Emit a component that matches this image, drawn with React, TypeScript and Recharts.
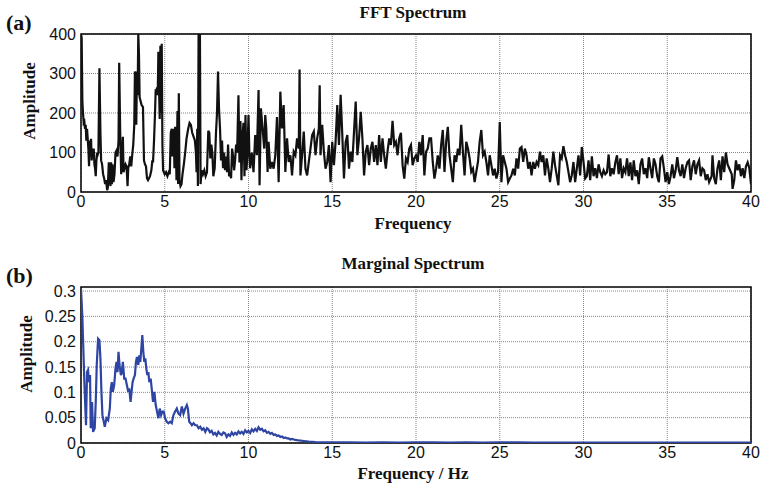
import React from 'react';
import { LineChart, Line, XAxis, YAxis, CartesianGrid, ReferenceArea } from 'recharts';

// (a) FFT spectrum
const fftFreq = [
  0, 0.04, 0.08, 0.12, 0.16, 0.2, 0.24, 0.28, 0.32, 0.36, 0.4, 0.44, 0.48, 0.52, 0.56, 0.6, 0.64, 0.68, 0.72, 0.76,
  0.8, 0.84, 0.88, 0.92, 0.96, 1.0, 1.04, 1.1, 1.16, 1.2, 1.26, 1.32, 1.38, 1.44, 1.5, 1.56, 1.6, 1.66, 1.7, 1.76,
  1.8, 1.84, 1.88, 1.94, 2.0, 2.06, 2.12, 2.18, 2.24, 2.28, 2.34, 2.4, 2.46, 2.5, 2.54, 2.6, 2.66, 2.72, 2.78, 2.82,
  2.88, 2.94, 3.0, 3.06, 3.12, 3.18, 3.22, 3.26, 3.3, 3.34, 3.38, 3.42, 3.46, 3.5, 3.56, 3.62, 3.7, 3.76, 3.82, 3.88,
  3.94, 4.0, 4.06, 4.12, 4.2, 4.26, 4.3, 4.36, 4.42, 4.46, 4.5, 4.54, 4.58, 4.62, 4.66, 4.7, 4.74, 4.78, 4.82, 4.86,
  4.9, 4.95,
  5.0, 5.08, 5.16, 5.24, 5.3, 5.36, 5.42, 5.46, 5.5, 5.54, 5.58, 5.62, 5.66, 5.7, 5.76, 5.8, 5.84, 5.88, 5.94, 6.0,
  6.06, 6.14, 6.22, 6.3, 6.4, 6.48, 6.56, 6.64, 6.72, 6.8, 6.86, 6.9, 6.94, 6.98, 7.02, 7.06, 7.1, 7.14, 7.2, 7.28,
  7.36, 7.44, 7.52, 7.6, 7.66, 7.72, 7.78, 7.84, 7.9, 7.98, 8.06, 8.12, 8.18, 8.24, 8.3, 8.36, 8.42, 8.48, 8.54, 8.6,
  8.66, 8.72, 8.78, 8.84, 8.9, 8.96, 9.02, 9.08, 9.14, 9.2, 9.26, 9.32, 9.4, 9.46, 9.52, 9.58, 9.64, 9.7, 9.76, 9.82,
  9.88, 9.94, 10.0, 10.05,
  10.1, 10.2, 10.3, 10.4, 10.5, 10.6, 10.66, 10.74, 10.84, 10.94, 11.0, 11.06, 11.14, 11.2, 11.3, 11.4, 11.5, 11.6,
  11.7, 11.8, 11.9, 12.0, 12.1, 12.2, 12.3, 12.4, 12.5, 12.6, 12.7, 12.8, 12.9, 13.0, 13.05, 13.1, 13.2, 13.3, 13.4,
  13.5, 13.6, 13.7, 13.8, 13.9, 14.0, 14.1, 14.2, 14.25, 14.3, 14.4, 14.5, 14.6, 14.7, 14.8, 14.9, 15.0, 15.1, 15.2,
  15.3, 15.4, 15.5, 15.6, 15.7, 15.8, 15.9, 16.0, 16.1, 16.2, 16.3, 16.4, 16.5, 16.6, 16.7, 16.8, 16.9, 17.0, 17.1,
  17.2, 17.3, 17.4, 17.5, 17.6, 17.7, 17.8, 17.9, 18.0, 18.1, 18.2, 18.3, 18.4, 18.5, 18.6, 18.7, 18.8, 18.9, 19.0,
  19.1, 19.2, 19.3, 19.4, 19.5, 19.6, 19.7, 19.8, 19.9,
  20.0, 20.1, 20.2, 20.3, 20.4, 20.5, 20.6, 20.7, 20.8, 20.9, 21.0, 21.1, 21.2, 21.3, 21.4, 21.5, 21.6, 21.7, 21.8,
  21.9, 22.0, 22.1, 22.2, 22.3, 22.4, 22.5, 22.6, 22.7, 22.8, 22.9, 23.0, 23.1, 23.2, 23.3, 23.4, 23.5, 23.6, 23.7,
  23.8, 23.9, 24.0, 24.1, 24.2, 24.3, 24.4, 24.5, 24.6, 24.7, 24.8, 24.9, 25.0, 25.1, 25.2, 25.3, 25.4, 25.5, 25.6,
  25.7, 25.8, 25.9, 26.0, 26.1, 26.2, 26.3, 26.4, 26.5, 26.6, 26.7, 26.8, 26.9, 27.0, 27.1, 27.2, 27.3, 27.4, 27.5,
  27.6, 27.7, 27.8, 27.9, 28.0, 28.1, 28.2, 28.3, 28.4, 28.5, 28.6, 28.7, 28.8, 28.9, 29.0, 29.1, 29.2, 29.3, 29.4,
  29.5, 29.6, 29.7, 29.8, 29.9,
  30.0, 30.1, 30.2, 30.3, 30.4, 30.5, 30.6, 30.7, 30.8, 30.9, 31.0, 31.1, 31.2, 31.3, 31.4, 31.5, 31.6, 31.7, 31.8,
  31.9, 32.0, 32.1, 32.2, 32.3, 32.4, 32.5, 32.6, 32.7, 32.8, 32.9, 33.0, 33.1, 33.2, 33.3, 33.4, 33.5, 33.6, 33.7,
  33.8, 33.9, 34.0, 34.1, 34.2, 34.3, 34.4, 34.5, 34.6, 34.7, 34.8, 34.9, 35.0, 35.1, 35.2, 35.3, 35.4, 35.5, 35.6,
  35.7, 35.8, 35.9, 36.0, 36.1, 36.2, 36.3, 36.4, 36.5, 36.6, 36.7, 36.8, 36.9, 37.0, 37.1, 37.2, 37.3, 37.4, 37.5,
  37.65, 37.7, 37.8, 37.9, 38.0, 38.1, 38.2, 38.3, 38.4, 38.5, 38.6, 38.7, 38.85, 38.9, 39.0, 39.1, 39.2, 39.3, 39.4,
  39.5, 39.6, 39.7, 39.8, 39.9, 40.0,
];
const fftAmp = [
  400, 390, 230, 200, 175, 178, 160, 170, 130, 160, 135, 110, 65, 130, 90, 135, 80, 110, 95, 110,
  70, 60, 40, 80, 100, 95, 100, 313, 150, 80, 70, 45, 35, 20, 30, 5, 10, 75, 35, 15,
  75, 20, 70, 25, 45, 100, 105, 90, 130, 327, 150, 45, 100, 140, 50, 60, 70, 65, 15, 60,
  70, 90, 65, 95, 120, 170, 305, 300, 170, 305, 245, 400, 350, 240, 230, 220, 215, 80, 70, 65,
  35, 30, 35, 40, 55, 80, 75, 130, 200, 260, 255, 265, 245, 355, 260, 185, 370, 200, 375, 120,
  55, 50,
  45, 50, 40, 50, 45, 150, 160, 90, 160, 140, 60, 165, 130, 30, 205, 20, 250, 30, 15, 20,
  45, 70, 100, 135, 160, 175, 170, 150, 140, 130, 100, 50, 160, 15, 400, 300, 400, 20, 55, 45,
  55, 40, 50, 155, 150, 85, 120, 100, 40, 60, 150, 200, 305, 210, 160, 80, 130, 60, 100, 55,
  90, 50, 120, 40, 45, 35, 110, 90, 55, 80, 120, 100, 245, 75, 180, 30, 140, 175, 40, 195,
  55, 100, 195, 100,
  60, 100, 50, 144, 93, 258, 17, 212, 161, 110, 195, 161, 51, 127, 59, 76, 59, 93,
  190, 25, 254, 161, 220, 51, 136, 76, 93, 42, 102, 93, 136, 110, 310, 42, 93, 153, 59,
  42, 76, 110, 144, 153, 93, 136, 161, 270, 93, 170, 102, 59, 76, 119, 25, 127, 68, 127,
  220, 119, 246, 144, 34, 127, 144, 59, 102, 76, 153, 229, 93, 136, 203, 136, 42, 102, 119,
  68, 110, 127, 76, 119, 68, 144, 76, 136, 93, 59, 102, 136, 119, 180, 119, 127, 93, 136,
  150, 68, 34, 85, 76, 110, 119, 68, 85,
  93, 76, 127, 93, 144, 42, 102, 110, 136, 136, 76, 34, 59, 93, 59, 119, 157, 51, 127,
  165, 93, 59, 25, 93, 76, 110, 93, 170, 102, 42, 127, 110, 85, 51, 59, 25, 51, 76,
  127, 157, 93, 102, 76, 42, 93, 68, 42, 59, 34, 51, 177, 25, 93, 76, 59, 25, 34,
  42, 59, 42, 85, 59, 110, 114, 76, 110, 93, 59, 76, 42, 76, 59, 76, 68, 102, 76, 93,
  42, 85, 59, 25, 59, 102, 68, 42, 17, 93, 85, 116, 93, 76, 51, 25, 42, 76, 25,
  59, 93, 42, 114, 76,
  34, 40, 80, 30, 90, 40, 60, 35, 70, 50, 40, 55, 45, 50, 95, 40, 60, 45, 75,
  93, 45, 85, 35, 60, 50, 85, 40, 75, 30, 80, 40, 55, 20, 70, 85, 45, 60, 35,
  88, 60, 35, 85, 70, 40, 25, 85, 90, 60, 25, 50, 20, 40, 70, 35, 55, 88, 55,
  40, 70, 35, 60, 75, 80, 30, 65, 80, 45, 70, 80, 40, 60, 55, 30, 45, 25, 40,
  93, 35, 20, 60, 80, 30, 90, 50, 100, 70, 60, 45, 8, 30, 80, 55, 70, 40, 60,
  35, 65, 75, 60, 20, 25,
];

// (b) marginal spectrum
const margFreq = [
  0, 0.08, 0.14, 0.2, 0.26, 0.3, 0.36, 0.42, 0.48, 0.54, 0.58, 0.66, 0.72, 0.82, 0.88, 0.94, 1.02, 1.1, 1.16, 1.22,
  1.28, 1.36, 1.42, 1.52, 1.62, 1.72, 1.78, 1.84, 1.9, 1.98, 2.06, 2.12, 2.18, 2.24, 2.3, 2.38, 2.44, 2.5, 2.58, 2.66,
  2.74, 2.82, 2.88, 2.96, 3.02, 3.08, 3.14, 3.22, 3.28, 3.34, 3.42, 3.48, 3.54, 3.6, 3.66, 3.72, 3.78, 3.84, 3.9, 3.96,
  4.02, 4.08, 4.16, 4.22, 4.3, 4.38, 4.46, 4.54, 4.62, 4.7, 4.78, 4.86, 4.94, 5.02, 5.12, 5.22, 5.32, 5.42, 5.52, 5.62,
  5.72, 5.82, 5.92, 6.02, 6.12, 6.22, 6.32, 6.38, 6.46, 6.54, 6.62, 6.72, 6.82, 6.92, 7.02, 7.12, 7.22, 7.32, 7.42, 7.52,
  7.6, 7.7, 7.8, 7.9, 8.0, 8.1, 8.2, 8.3, 8.4, 8.5, 8.6, 8.7, 8.8, 8.9, 9.0, 9.1, 9.2, 9.3, 9.4, 9.5,
  9.6, 9.7, 9.8, 9.9, 10.0, 10.1, 10.2, 10.3, 10.4, 10.5, 10.6, 10.7, 10.8, 10.9, 11.0, 11.1, 11.2, 11.3, 11.4, 11.5,
  11.6, 11.7, 11.8, 11.9, 12.0, 12.1, 12.2, 12.3, 12.4, 12.5, 12.6, 12.8, 13.0, 13.3, 13.6, 14.0, 14.5, 15, 16, 17,
  18, 19, 20, 21, 22, 23, 24, 25, 26, 27, 28, 29, 30, 32, 34, 36, 38, 40,
];
const margAmp = [
  0.305, 0.25, 0.186, 0.12, 0.068, 0.035, 0.14, 0.144, 0.12, 0.134, 0.029, 0.081, 0.022, 0.029, 0.081, 0.154, 0.206, 0.203, 0.167, 0.101,
  0.055, 0.042, 0.032, 0.049, 0.045, 0.068, 0.108, 0.12, 0.101, 0.114, 0.147, 0.16, 0.14, 0.18, 0.154, 0.134, 0.14, 0.16, 0.127, 0.127,
  0.114, 0.101, 0.108, 0.081, 0.101, 0.12, 0.127, 0.134, 0.16, 0.17, 0.154, 0.173, 0.16, 0.186, 0.213, 0.18, 0.16, 0.167, 0.147, 0.134,
  0.14, 0.12, 0.127, 0.108, 0.081, 0.101, 0.075, 0.062, 0.049, 0.068, 0.055, 0.062, 0.062, 0.049, 0.042, 0.039, 0.042, 0.039, 0.055, 0.062,
  0.068, 0.058, 0.055, 0.072, 0.058, 0.068, 0.075, 0.068, 0.042, 0.039, 0.035, 0.039, 0.035, 0.035, 0.029, 0.032, 0.026, 0.029, 0.022, 0.029,
  0.027, 0.021, 0.024, 0.017, 0.02, 0.015, 0.022, 0.018, 0.016, 0.021, 0.019, 0.012, 0.017, 0.014, 0.021, 0.016, 0.02, 0.017, 0.023, 0.019,
  0.022, 0.018, 0.025, 0.021, 0.024, 0.02, 0.027, 0.023, 0.028, 0.024, 0.031, 0.026, 0.028, 0.023, 0.025, 0.02, 0.022, 0.018, 0.02, 0.016,
  0.017, 0.014, 0.015, 0.012, 0.013, 0.01, 0.011, 0.009, 0.009, 0.007, 0.008, 0.006, 0.005, 0.004, 0.003, 0.002, 0.0015, 0.0012, 0.0015, 0.001,
  0.0012, 0.0008, 0.0012, 0.0015, 0.001, 0.0012, 0.001, 0.0012, 0.0015, 0.001, 0.0008, 0.001, 0.0008, 0.0009, 0.0007, 0.0008, 0.0007, 0.0008,
];

const xTicks = [0, 5, 10, 15, 20, 25, 30, 35, 40];
const fftTicks = [0, 100, 200, 300, 400];
const margTicks = [0, 0.05, 0.1, 0.15, 0.2, 0.25, 0.3];

const fftData = fftFreq.map((f, i) => ({ f, a: fftAmp[i] }));
const margData = margFreq.map((f, i) => ({ f, a: margAmp[i] }));

const tickStyle = { fill: '#111', fontSize: 16, fontFamily: '"Liberation Sans", Arial, sans-serif' };
const serif = '"Liberation Serif", "Times New Roman", serif';

const Panel = ({ data, yMax, yTicks, color, margin }: any) => (
  <LineChart width={763} height={240} data={data} margin={margin}>
    <CartesianGrid stroke="#888" strokeDasharray="1 1" horizontalValues={yTicks} verticalValues={xTicks} />
    <XAxis
      dataKey="f"
      type="number"
      domain={[0, 40]}
      ticks={xTicks}
      allowDataOverflow
      height={30}
      tickSize={0}
      tickMargin={4}
      axisLine={false}
      tick={tickStyle}
    />
    <YAxis
      type="number"
      domain={[0, yMax]}
      ticks={yTicks}
      allowDataOverflow
      width={81}
      tickSize={0}
      tickMargin={5}
      axisLine={false}
      tick={tickStyle}
      interval={0}
    />
    <Line
      type="linear"
      dataKey="a"
      stroke={color}
      strokeWidth={2.2}
      dot={false}
      isAnimationActive={false}
    />
    <ReferenceArea x1={0} x2={40} y1={0} y2={yMax} fill="none" stroke="#000" strokeWidth={1.5} strokeOpacity={1} fillOpacity={0} />
  </LineChart>
);

export default function App() {
  return (
    <div style={{ position: 'absolute', left: 0, top: 0, width: 763, height: 491, background: '#fff' }}>
      <div style={{ position: 'absolute', left: 0, top: 0 }}>
        <Panel data={fftData} yMax={400} yTicks={fftTicks} color="#111" margin={{ top: 34, right: 12, left: 0, bottom: 18 }} />
      </div>
      <div style={{ position: 'absolute', left: 0, top: 250 }}>
        <Panel data={margData} yMax={0.308} yTicks={margTicks} color="#2e45a3" margin={{ top: 37, right: 12, left: 0, bottom: 17 }} />
      </div>
      <svg width={763} height={491} style={{ position: 'absolute', left: 0, top: 0, pointerEvents: 'none' }}>
        <g fontFamily={serif} fontWeight="bold" fill="#111">
          <text x={6} y={30} fontSize={22}>(a)</text>
          <text x={413} y={18} fontSize={17} textAnchor="middle">FFT Spectrum</text>
          <text x={413} y={229} fontSize={17} textAnchor="middle">Frequency</text>
          <text transform="translate(35,101) rotate(-90)" fontSize={17} textAnchor="middle">Amplitude</text>
          <text x={6} y={283} fontSize={22}>(b)</text>
          <text x={413} y={269} fontSize={17} textAnchor="middle">Marginal Spectrum</text>
          <text x={413} y={479} fontSize={17} textAnchor="middle">Frequency / Hz</text>
          <text transform="translate(32,354) rotate(-90)" fontSize={17} textAnchor="middle">Amplitude</text>
        </g>
      </svg>
    </div>
  );
}
